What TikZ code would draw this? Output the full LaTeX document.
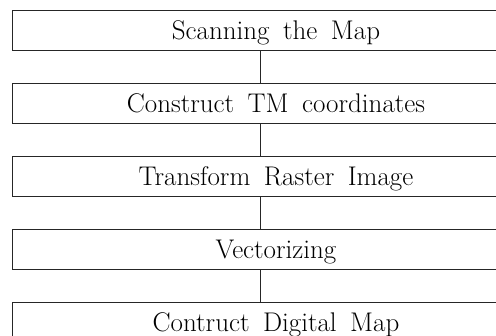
\documentclass[tikz,border=0pt]{standalone}
\usepackage{fontspec}
\newcommand{\gap}{\hspace{13.5pt}}
\begin{document}
\begin{tikzpicture}[x=1pt,y=-1pt,
  stage/.style={draw=black!85, line width=0.8pt, minimum width=528pt,
    minimum height=40pt, inner sep=0pt, text height=20.4pt, text depth=2pt,
    font=\fontsize{27}{32}\selectfont},
  link/.style={draw=black!85, line width=0.8pt}]
  \useasboundingbox (0,0) rectangle (496,336);
  \clip (0,0) rectangle (496,336);
  \node[stage] (b1) at (276,30)    {Scanning\gap the\gap Map};
  \node[stage] (b2) at (276,103)   {Construct\gap TM\gap coordinates};
  \node[stage] (b3) at (276,176.5) {Transform\gap Raster\gap Image};
  \node[stage] (b4) at (276,249)   {Vectorizing};
  \node[stage] (b5) at (276,322)   {Contruct\gap Digital\gap Map};
  \foreach \a/\b in {b1/b2,b2/b3,b3/b4,b4/b5}
    \draw[link] ([xshift=-16pt]\a.south) -- ([xshift=-16pt]\b.north);
\end{tikzpicture}
\end{document}
